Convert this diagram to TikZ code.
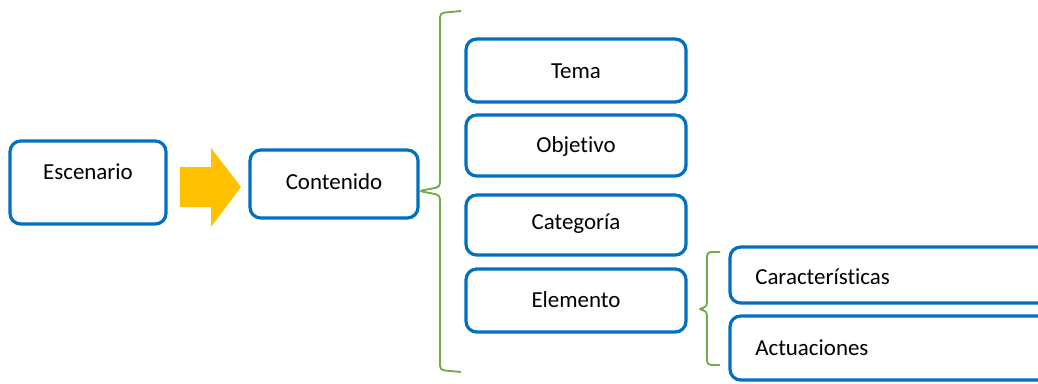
\documentclass[tikz,border=0pt]{standalone}
\usepackage{fontspec}
\setmainfont{Carlito}[Ligatures=NoCommon]
\definecolor{boxblue}{HTML}{0070C0}
\definecolor{bracegreen}{HTML}{70AD47}
\definecolor{arrowyellow}{HTML}{FFC000}
\begin{document}
\begin{tikzpicture}[x=0.75pt,y=-0.75pt,
  box/.style={draw=boxblue,line width=2.4pt,rounded corners=8pt,fill=white},
  lbl/.style={font=\fontsize{17.2}{20}\selectfont,inner sep=0pt,anchor=center},
  brace/.style={draw=bracegreen,line width=1.4pt,rounded corners=3pt}]
\useasboundingbox (0,0) rectangle (1038,383);
\clip (0,0) rectangle (1038,383);
% boxes
\draw[box] (10,141) rectangle (166,224);
\node[lbl] (esc) at (88,172) {Escenario};
\draw[box] (250,150) rectangle (418,218);
\node[lbl] (con) at (334,182) {Contenido};
\draw[box] (466,39) rectangle (686,102);
\node[lbl] (tema) at (576,71) {Tema};
\draw[box] (466,115) rectangle (686,176);
\node[lbl] (obj) at (576,146) {Objetivo};
\draw[box] (466,195) rectangle (686,255);
\node[lbl] (cat) at (576,224) {Categoría};
\draw[box] (466,269) rectangle (686,332);
\node[lbl] (ele) at (576,300) {Elemento};
\draw[box] (730,247) rectangle (1060,303);
\node[lbl,anchor=west] (car) at (755,277) {Características};
\draw[box] (730,316) rectangle (1060,380);
\node[lbl,anchor=west] (act) at (755,348) {Actuaciones};
% yellow arrow
\fill[arrowyellow] (180,167) -- (211,167) -- (211,148) -- (241,187) -- (211,227) -- (211,207) -- (180,207) -- cycle;
% braces
\draw[brace] (461,11) -- (440,13) -- (440,187) -- (419,191) -- (440,195) -- (440,370) -- (461,372);
\draw[brace] (720,252) -- (707,252) -- (707,307) -- (698,309) -- (707,311) -- (707,365) -- (720,365);
\end{tikzpicture}
\end{document}
